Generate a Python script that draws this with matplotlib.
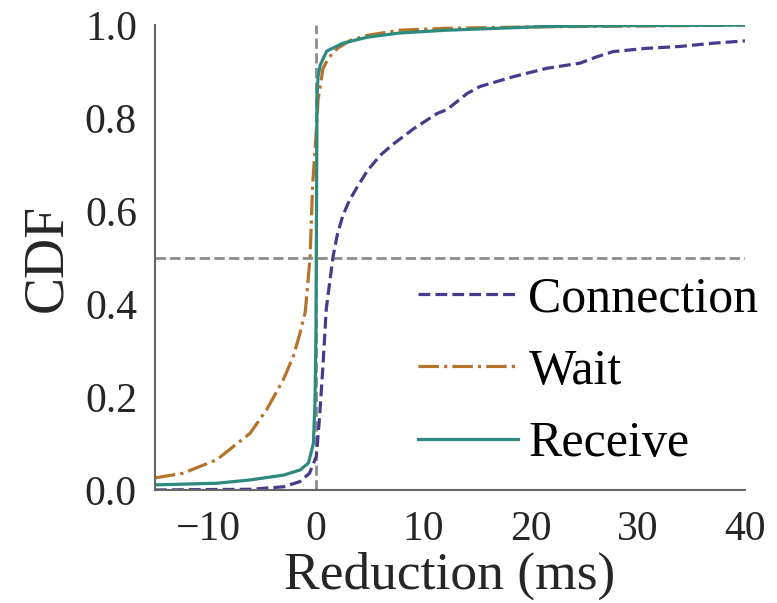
import matplotlib
matplotlib.use('Agg')
import matplotlib.pyplot as plt

# ==========================================================
# Data (x = reduction in ms, y = CDF)
# ==========================================================
conn_x = [-15, -10, -6.1, -3.0, -1.5, -0.6, 0.03, 0.34, 0.65, 0.96, 1.3,
          1.6, 2.0, 2.5, 3.1, 3.8, 4.8, 6.0, 7.2, 9.1, 11.3, 12.2, 14.1,
          15.3, 18.4, 21.5, 24.6, 26.2, 27.7, 30.8, 33.9, 37.0, 40]
conn_y = [0.0, 0.001, 0.0015, 0.007, 0.018, 0.036, 0.072, 0.158, 0.266,
          0.389, 0.45, 0.503, 0.55, 0.59, 0.622, 0.65, 0.687, 0.72, 0.744,
          0.777, 0.81, 0.818, 0.853, 0.868, 0.889, 0.907, 0.918, 0.932, 0.943,
          0.950, 0.954, 0.961, 0.966]

wait_x = [-15, -12.4, -9.25, -6.14, -4.59, -3.03, -2.1, -1.48, -1.0, -0.55,
          -0.3, 0.0, 0.2, 0.66, 1.2, 2.0, 3.2, 4.8, 7.8, 12, 20, 30, 40]
wait_y = [0.026, 0.036, 0.065, 0.122, 0.173, 0.238, 0.288, 0.338, 0.382,
          0.5, 0.66, 0.76, 0.84, 0.907, 0.93, 0.95, 0.967, 0.978, 0.989,
          0.993, 0.996, 0.998, 1.0]

recv_x = [-15, -9.25, -6.14, -3.03, -1.48, -0.7, -0.24, -0.09, 0.0, 0.05,
          0.1, 0.2, 0.4, 1.0, 2.5, 4.8, 7.8, 12.2, 21.5, 30, 40]
recv_y = [0.011, 0.0145, 0.0216, 0.032, 0.043, 0.058, 0.10, 0.19, 0.34, 0.6,
          0.85, 0.89, 0.914, 0.944, 0.961, 0.974, 0.983, 0.989, 0.997, 0.999,
          1.0]

labels = ['Connection', 'Wait', 'Receive']
cores = ['#4a3a8e', '#b5742a', '#2f8a7e']
estilos = ['--', '-.', '-']

# ==========================================================
# Plot
# ==========================================================
plt.rcParams['font.family'] = ['Liberation Serif', 'DejaVu Serif']

fig = plt.figure(figsize=(7.77, 6.03), dpi=100)
ax = fig.add_axes([0.1995, 0.1874, 0.7595, 0.771])

ax.axvline(0, color='#8c8c8c', linestyle='--', linewidth=2, zorder=1)
ax.axhline(0.5, color='#8c8c8c', linestyle='--', linewidth=2, zorder=1)

series = [(conn_x, conn_y), (wait_x, wait_y), (recv_x, recv_y)]
for (xs, ys), lab, cor, est in zip(series, labels, cores, estilos):
    ax.plot(xs, ys, linestyle=est, color=cor, linewidth=2.3, label=lab, zorder=2)

ax.set_xlim(-15, 40)
ax.set_ylim(0, 1.0)
ax.set_xticks([-10, 0, 10, 20, 30, 40])
ax.set_yticks([0.0, 0.2, 0.4, 0.6, 0.8, 1.0])
ax.tick_params(length=0, labelsize=30, colors='#262626')
ax.tick_params(axis='x', pad=15)
ax.tick_params(axis='y', pad=13)

for lado in ['top', 'right']:
    ax.spines[lado].set_visible(False)
for lado in ['left', 'bottom']:
    ax.spines[lado].set_color('#666666')
    ax.spines[lado].set_linewidth(1.5)

ax.set_xlabel('Reduction (ms)', fontsize=38.5, color='#262626', labelpad=2)
ax.set_ylabel('CDF', fontsize=40, color='#262626', labelpad=8)

ax.legend(loc='lower right', frameon=False, fontsize=36, handlelength=2.0,
          handletextpad=0.2, labelspacing=0.52, borderaxespad=0.1,
          bbox_to_anchor=(1.065, -0.005))

fig.savefig('out.png', dpi=100)
